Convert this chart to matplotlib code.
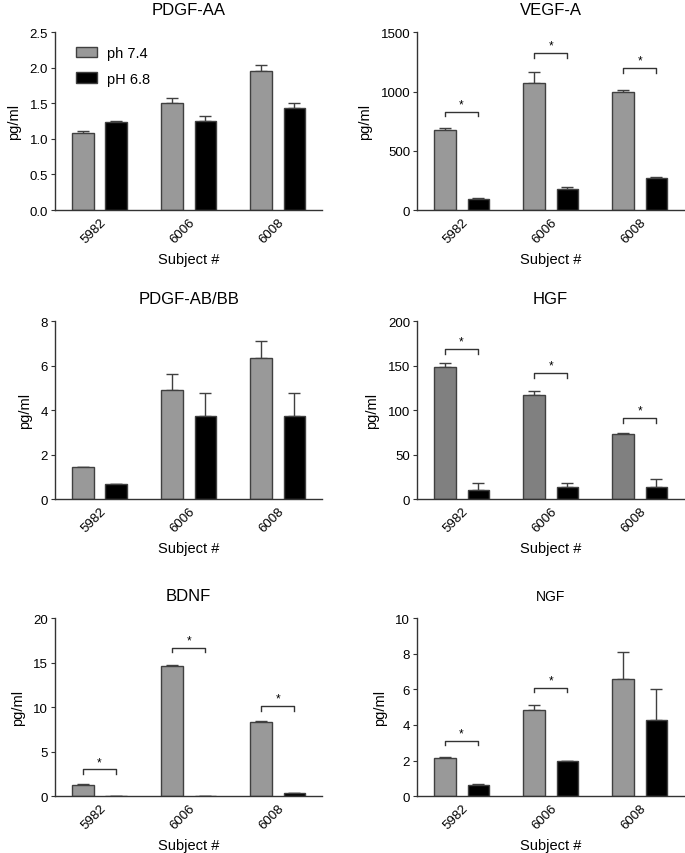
import matplotlib
matplotlib.use("Agg")
import matplotlib.pyplot as plt
import numpy as np

plt.rcParams['font.family'] = ['Liberation Sans', 'DejaVu Sans']

subjects = ['5982', '6006', '6008']

pdgf_aa_g = [1.08, 1.51, 1.955]
pdgf_aa_g_err = [0.035, 0.07, 0.085]
pdgf_aa_b = [1.235, 1.25, 1.44]
pdgf_aa_b_err = [0.015, 0.075, 0.065]

vegf_g = [675, 1070, 995]
vegf_g_err = [20, 95, 22]
vegf_b = [90, 175, 270]
vegf_b_err = [8, 20, 6]
vegf_sig = [831, 1326, 1197]

pdgf_bb_g = [1.44, 4.92, 6.35]
pdgf_bb_g_err = [0, 0.72, 0.75]
pdgf_bb_b = [0.69, 3.73, 3.73]
pdgf_bb_b_err = [0, 1.04, 1.04]

hgf_g = [148.5, 117, 73]
hgf_g_err = [4.5, 5, 1.5]
hgf_b = [10.5, 14, 13]
hgf_b_err = [7, 3.5, 10]
hgf_sig = [169, 142, 91]

bdnf_g = [1.2, 14.6, 8.3]
bdnf_g_err = [0.2, 0.15, 0.15]
bdnf_b = [0, 0, 0.3]
bdnf_b_err = [0, 0, 0]
bdnf_sig = [3.0, 16.7, 10.1]

ngf_g = [2.12, 4.82, 6.6]
ngf_g_err = [0.08, 0.28, 1.5]
ngf_b = [0.62, 1.97, 4.28]
ngf_b_err = [0.07, 0, 1.72]
ngf_sig = [3.11, 6.1, None]

# title, y max, y step, gray, gray err, black, black err, brackets, gray colour, title size
panels = [
    ("PDGF-AA", 2.5, 0.5, pdgf_aa_g, pdgf_aa_g_err, pdgf_aa_b, pdgf_aa_b_err, None, '#999999', 12),
    ("VEGF-A", 1500, 500, vegf_g, vegf_g_err, vegf_b, vegf_b_err, vegf_sig, '#999999', 12),
    ("PDGF-AB/BB", 8, 2, pdgf_bb_g, pdgf_bb_g_err, pdgf_bb_b, pdgf_bb_b_err, None, '#999999', 12),
    ("HGF", 200, 50, hgf_g, hgf_g_err, hgf_b, hgf_b_err, hgf_sig, '#808080', 12),
    ("BDNF", 20, 5, bdnf_g, bdnf_g_err, bdnf_b, bdnf_b_err, bdnf_sig, '#999999', 12),
    ("NGF", 10, 2, ngf_g, ngf_g_err, ngf_b, ngf_b_err, ngf_sig, '#999999', 10),
]

fig = plt.figure(figsize=(6.85, 8.54), dpi=100)

lefts = [0.0803, 0.6088]
bottoms = [0.7529, 0.4145, 0.0667]
w, h = 0.390, 0.2080

edge = '#404040'
x = np.arange(3)
bw = 0.24
off = 0.187

for i, (title, ymax, step, g, ge, b, be, sig, gcol, tsize) in enumerate(panels):
    ax = fig.add_axes([lefts[i % 2], bottoms[i // 2], w, h])
    ax.bar(x - off, g, bw, color=gcol, edgecolor=edge, linewidth=1.0, label='ph 7.4', zorder=2)
    ax.bar(x + off, b, bw, color='black', edgecolor=edge, linewidth=1.0, label='pH 6.8', zorder=2)
    ax.errorbar(x - off, g, yerr=[np.zeros(3), ge], fmt='none', ecolor=edge,
                elinewidth=1.0, capsize=4, capthick=1.0, zorder=1)
    ax.errorbar(x + off, b, yerr=[np.zeros(3), be], fmt='none', ecolor=edge,
                elinewidth=1.0, capsize=4, capthick=1.0, zorder=1)

    # significance brackets
    if sig is not None:
        drop = ymax * 0.026
        for j, yv in enumerate(sig):
            if yv is None:
                continue
            ax.plot([j - off, j - off, j + off, j + off], [yv - drop, yv, yv, yv - drop],
                    color='#333333', linewidth=1.0)
            ax.text(j, yv + ymax * 0.008, '*', ha='center', va='bottom', fontsize=8.5)

    ax.set_xlim(-0.5, 2.5)
    ax.set_ylim(0, ymax)
    yt = np.arange(0, ymax + step / 2, step)
    ax.set_yticks(yt)
    if step < 1:
        ax.set_yticklabels([f'{v:.1f}' for v in yt])
    ax.set_xticks(x)
    ax.set_xticklabels(subjects, rotation=45, ha='right', rotation_mode='anchor')
    ax.tick_params(axis='x', length=0, pad=4, labelsize=9.5)
    ax.tick_params(axis='y', length=3, width=0.8, color='#333333', labelsize=9.5, pad=2)
    for s in ['top', 'right']:
        ax.spines[s].set_visible(False)
    for s in ['left', 'bottom']:
        ax.spines[s].set_color('#333333')
        ax.spines[s].set_linewidth(1.0)
    ax.set_title(title, fontsize=tsize, pad=13)
    ax.set_ylabel('pg/ml', fontsize=10.5, labelpad=6)
    ax.set_xlabel('Subject #', fontsize=10.5, labelpad=5)

    if i == 0:
        ax.legend(loc='upper left', frameon=False, fontsize=10.5, handlelength=1.45,
                  handleheight=0.75, handletextpad=0.7, borderaxespad=0.0,
                  bbox_to_anchor=(0.055, 0.955), labelspacing=0.8)

fig.savefig('out.png', dpi=100)
